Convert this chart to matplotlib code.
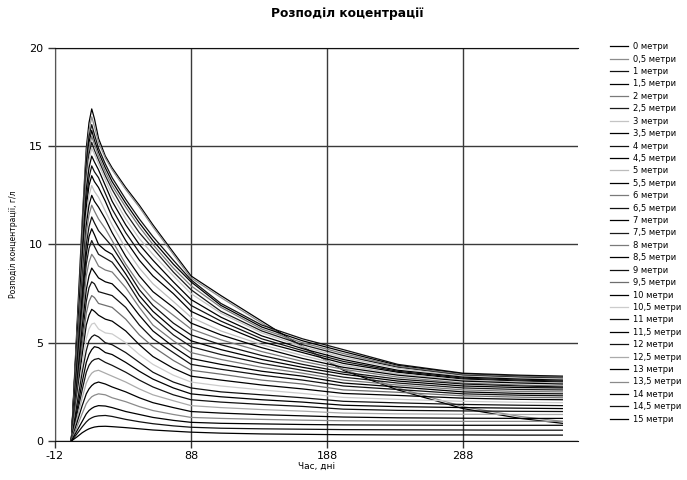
import matplotlib
matplotlib.use("Agg")
import matplotlib.pyplot as plt

plt.rcParams['font.family'] = ['DejaVu Sans']
plt.rcParams['axes.unicode_minus'] = False

# time axis, days
days = [0, 4, 8, 11, 13, 15, 17, 20, 25, 30, 40, 50, 60, 75, 88, 110, 140, 170, 200, 240, 288, 330, 361]

# concentration, g/l, one series per depth
d00_0 = [0, 5.6, 11.2, 14.9, 16.2, 16.9, 16.4, 15.4, 14.5, 13.9, 12.9, 12.0, 11.0, 9.6, 8.4, 7.4, 6.1, 4.8, 3.6, 2.6, 1.65, 1.15, 0.9]
d00_5 = [0, 5.4, 10.9, 14.5, 15.8, 16.5, 16.0, 15.2, 14.4, 13.8, 12.8, 11.9, 10.9, 9.5, 8.3, 7.3, 6.0, 4.75, 3.65, 2.7, 1.75, 1.25, 1.0]
d01_0 = [0, 5.3, 10.6, 14.2, 15.5, 16.1, 15.6, 14.9, 14.1, 13.4, 12.3, 11.3, 10.4, 9.2, 8.2, 7.0, 5.9, 5.2, 4.65, 3.9, 3.45, 3.35, 3.3]
d01_5 = [0, 5.2, 10.4, 13.9, 15.2, 15.8, 15.3, 14.7, 13.9, 13.2, 12.1, 11.1, 10.2, 9.0, 8.1, 6.9, 5.8, 5.1, 4.55, 3.85, 3.42, 3.3, 3.28]
d02_0 = [0, 5.1, 10.2, 13.6, 14.9, 15.5, 15.1, 14.5, 13.7, 13.0, 11.9, 10.9, 10.0, 8.8, 7.9, 6.8, 5.7, 5.0, 4.45, 3.8, 3.38, 3.27, 3.25]
d02_5 = [0, 5.0, 10.0, 13.4, 14.6, 15.2, 14.8, 14.3, 13.5, 12.8, 11.6, 10.6, 9.8, 8.6, 7.7, 6.6, 5.6, 4.9, 4.35, 3.75, 3.34, 3.24, 3.2]
d03_0 = [0, 4.9, 9.8, 13.1, 14.3, 14.9, 14.6, 14.1, 13.3, 12.5, 11.3, 10.3, 9.5, 8.4, 7.5, 6.5, 5.5, 4.8, 4.25, 3.7, 3.3, 3.2, 3.15]
d03_5 = [0, 4.8, 9.6, 12.8, 13.9, 14.5, 14.2, 13.8, 13.0, 12.2, 11.0, 10.0, 9.2, 8.1, 7.2, 6.3, 5.35, 4.7, 4.15, 3.6, 3.25, 3.15, 3.1]
d04_0 = [0, 4.6, 9.2, 12.3, 13.4, 14.0, 13.7, 13.4, 12.6, 11.8, 10.6, 9.6, 8.8, 7.8, 6.9, 6.1, 5.2, 4.6, 4.05, 3.55, 3.2, 3.1, 3.05]
d04_5 = [0, 4.5, 8.9, 11.9, 13.0, 13.5, 13.2, 12.9, 12.2, 11.4, 10.2, 9.2, 8.4, 7.5, 6.6, 5.9, 5.05, 4.5, 3.95, 3.5, 3.15, 3.05, 3.0]
d05_0 = [0, 4.3, 8.6, 11.4, 12.5, 13.0, 12.7, 12.4, 11.7, 11.0, 9.8, 8.8, 8.0, 7.1, 6.3, 5.6, 4.9, 4.35, 3.85, 3.42, 3.1, 3.0, 2.95]
d05_5 = [0, 4.1, 8.3, 11.0, 12.0, 12.5, 12.2, 11.9, 11.3, 10.6, 9.4, 8.4, 7.6, 6.8, 6.0, 5.4, 4.75, 4.2, 3.75, 3.35, 3.05, 2.95, 2.9]
d06_0 = [0, 4.0, 7.9, 10.6, 11.5, 12.0, 11.7, 11.3, 10.8, 10.2, 9.0, 8.0, 7.2, 6.4, 5.7, 5.15, 4.55, 4.05, 3.65, 3.25, 2.95, 2.85, 2.8]
d06_5 = [0, 3.8, 7.5, 10.0, 10.9, 11.4, 11.1, 10.7, 10.3, 9.9, 8.8, 7.7, 6.9, 6.0, 5.4, 4.9, 4.35, 3.9, 3.5, 3.15, 2.9, 2.8, 2.75]
d07_0 = [0, 3.6, 7.1, 9.5, 10.4, 10.8, 10.5, 10.0, 9.7, 9.5, 8.5, 7.4, 6.6, 5.7, 5.1, 4.65, 4.15, 3.75, 3.4, 3.05, 2.8, 2.72, 2.7]
d07_5 = [0, 3.4, 6.7, 9.0, 9.8, 10.2, 9.9, 9.5, 9.3, 9.1, 8.2, 7.1, 6.3, 5.4, 4.8, 4.4, 3.95, 3.6, 3.25, 2.95, 2.7, 2.62, 2.6]
d08_0 = [0, 3.1, 6.3, 8.4, 9.1, 9.5, 9.3, 8.9, 8.7, 8.6, 7.8, 6.8, 5.9, 5.1, 4.5, 4.15, 3.75, 3.45, 3.1, 2.85, 2.6, 2.52, 2.5]
d08_5 = [0, 2.9, 5.8, 7.7, 8.4, 8.8, 8.6, 8.3, 8.1, 8.0, 7.3, 6.4, 5.6, 4.8, 4.2, 3.9, 3.55, 3.3, 2.95, 2.75, 2.5, 2.42, 2.4]
d09_0 = [0, 2.7, 5.3, 7.1, 7.8, 8.1, 8.0, 7.6, 7.5, 7.4, 6.8, 5.9, 5.2, 4.5, 3.9, 3.65, 3.35, 3.1, 2.8, 2.62, 2.4, 2.33, 2.3]
d09_5 = [0, 2.4, 4.9, 6.5, 7.1, 7.4, 7.3, 7.0, 6.9, 6.8, 6.2, 5.4, 4.8, 4.1, 3.6, 3.4, 3.1, 2.9, 2.6, 2.48, 2.3, 2.23, 2.2]
d10_0 = [0, 2.2, 4.4, 5.9, 6.4, 6.7, 6.6, 6.4, 6.2, 6.1, 5.6, 4.9, 4.3, 3.7, 3.3, 3.1, 2.85, 2.65, 2.42, 2.32, 2.18, 2.12, 2.1]
d10_5 = [0, 2.0, 3.9, 5.2, 5.7, 5.95, 6.0, 5.7, 5.5, 5.45, 5.0, 4.4, 3.9, 3.35, 3.0, 2.8, 2.6, 2.42, 2.22, 2.12, 2.02, 1.97, 1.95]
d11_0 = [0, 1.8, 3.5, 4.6, 5.1, 5.3, 5.4, 5.3, 5.0, 4.9, 4.5, 4.0, 3.5, 3.0, 2.7, 2.5, 2.35, 2.2, 2.02, 1.94, 1.86, 1.82, 1.8]
d11_5 = [0, 1.5, 3.0, 4.0, 4.4, 4.65, 4.8, 4.75, 4.5, 4.4, 4.0, 3.55, 3.15, 2.7, 2.4, 2.25, 2.1, 1.98, 1.82, 1.75, 1.7, 1.67, 1.65]
d12_0 = [0, 1.3, 2.6, 3.5, 3.85, 4.05, 4.15, 4.2, 4.0, 3.85, 3.5, 3.1, 2.75, 2.35, 2.1, 1.98, 1.86, 1.76, 1.62, 1.56, 1.53, 1.51, 1.5]
d12_5 = [0, 1.1, 2.2, 2.95, 3.25, 3.45, 3.55, 3.6, 3.45, 3.3, 3.0, 2.65, 2.35, 2.05, 1.8, 1.7, 1.6, 1.52, 1.42, 1.38, 1.36, 1.35, 1.35]
d13_0 = [0, 0.9, 1.8, 2.4, 2.65, 2.82, 2.93, 3.0, 2.9, 2.75, 2.5, 2.2, 1.95, 1.7, 1.5, 1.42, 1.34, 1.28, 1.22, 1.18, 1.16, 1.15, 1.15]
d13_5 = [0, 0.7, 1.4, 1.9, 2.1, 2.25, 2.33, 2.4, 2.35, 2.2, 2.0, 1.75, 1.55, 1.35, 1.2, 1.15, 1.1, 1.06, 1.03, 1.01, 1.0, 1.0, 1.0]
d14_0 = [0, 0.5, 1.0, 1.38, 1.55, 1.66, 1.74, 1.8, 1.78, 1.7, 1.5, 1.35, 1.2, 1.05, 0.95, 0.9, 0.87, 0.84, 0.82, 0.81, 0.8, 0.8, 0.8]
d14_5 = [0, 0.35, 0.72, 0.97, 1.1, 1.18, 1.24, 1.28, 1.3, 1.25, 1.1, 0.98, 0.88, 0.77, 0.7, 0.65, 0.62, 0.6, 0.58, 0.57, 0.56, 0.55, 0.55]
d15_0 = [0, 0.2, 0.42, 0.55, 0.62, 0.67, 0.71, 0.74, 0.75, 0.73, 0.68, 0.62, 0.56, 0.5, 0.45, 0.4, 0.36, 0.34, 0.32, 0.31, 0.31, 0.3, 0.3]

series = [d00_0, d00_5, d01_0, d01_5, d02_0, d02_5, d03_0, d03_5, d04_0, d04_5,
          d05_0, d05_5, d06_0, d06_5, d07_0, d07_5, d08_0, d08_5, d09_0, d09_5,
          d10_0, d10_5, d11_0, d11_5, d12_0, d12_5, d13_0, d13_5, d14_0, d14_5, d15_0]

labels = ["0 метри", "0,5 метри", "1 метри", "1,5 метри", "2 метри", "2,5 метри",
          "3 метри", "3,5 метри", "4 метри", "4,5 метри", "5 метри", "5,5 метри",
          "6 метри", "6,5 метри", "7 метри", "7,5 метри", "8 метри", "8,5 метри",
          "9 метри", "9,5 метри", "10 метри", "10,5 метри", "11 метри", "11,5 метри",
          "12 метри", "12,5 метри", "13 метри", "13,5 метри", "14 метри", "14,5 метри",
          "15 метри"]

colors = ["#000000", "#8c8c8c", "#111111", "#000000", "#7a7a7a", "#1a1a1a",
          "#c4c4c4", "#000000", "#111111", "#000000", "#bcbcbc", "#000000",
          "#7a7a7a", "#111111", "#000000", "#1a1a1a", "#7a7a7a", "#000000",
          "#111111", "#6e6e6e", "#000000", "#cccccc", "#111111", "#000000",
          "#111111", "#aaaaaa", "#000000", "#8a8a8a", "#000000", "#111111",
          "#000000"]

fig = plt.figure(figsize=(6.87, 4.8), dpi=100)
ax = fig.add_axes([55 / 687, 1 - 441 / 480, (578 - 55) / 687, (441 - 48) / 480])

for vals, lab, col in zip(series, labels, colors):
    ax.plot(days, vals, color=col, lw=0.9, label=lab)

ax.set_xlim(-12, 372.5)
ax.set_ylim(0, 20)
ax.set_xticks([-12, 88, 188, 288])
ax.set_yticks([0, 5, 10, 15, 20])
ax.set_axisbelow(True)
ax.grid(True, color="#3a3a3a", lw=1.0)
ax.spines["right"].set_visible(False)
ax.spines["top"].set_color("#111111")
ax.spines["left"].set_color("#555555")
ax.spines["bottom"].set_color("#111111")
ax.tick_params(direction="out", length=5, width=1, color="#333333", labelsize=8)
ax.tick_params(axis="x", pad=2)

ax.set_xlabel("Час, дні", fontsize=6.5, labelpad=1)
ax.set_ylabel("Розподіл концентрації, г/л", fontsize=5.5, labelpad=8)
fig.suptitle("Розподіл коцентрації", fontsize=8.8, fontweight="bold", x=0.506, y=0.985)

ax.legend(loc="upper left", bbox_to_anchor=(0.883, 0.919), bbox_transform=fig.transFigure,
          frameon=False, fontsize=6, handlelength=2.2, handletextpad=0.55,
          labelspacing=0.41, borderaxespad=0)

fig.savefig("out.png", dpi=100)
